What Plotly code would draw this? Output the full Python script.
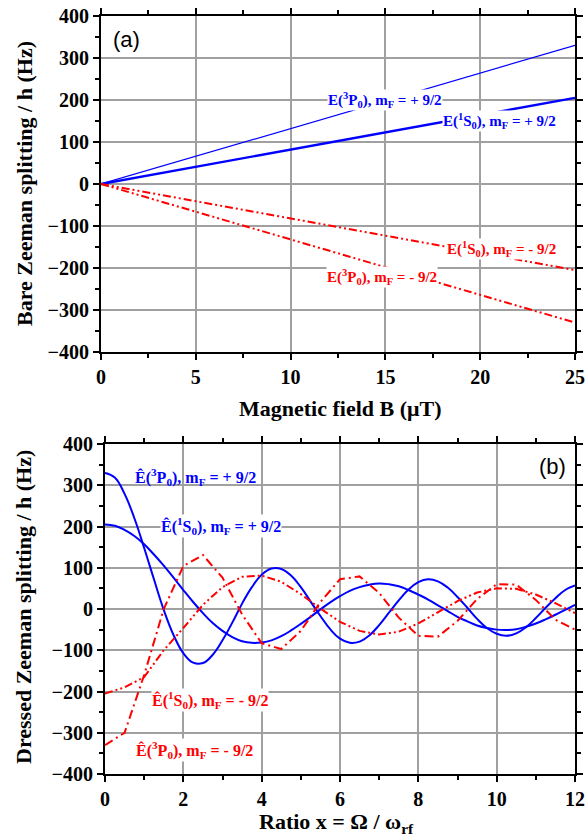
import plotly.graph_objects as go

# ---------------- data ----------------
# (a) bare Zeeman splitting vs magnetic field
B_field = [0, 25]
bare_3P0_plus = [0, 330]
bare_1S0_plus = [0, 205]
bare_1S0_minus = [0, -205]
bare_3P0_minus = [0, -330]

# (b) dressed Zeeman splitting vs ratio x
ratio_x = [0, 0.25, 0.5, 0.75, 1, 1.25, 1.5, 1.75, 2, 2.25, 2.5, 2.75, 3, 3.25, 3.5, 3.75,
           4, 4.25, 4.5, 4.75, 5, 5.25, 5.5, 5.75, 6, 6.25, 6.5, 6.75, 7, 7.25, 7.5, 7.75,
           8, 8.25, 8.5, 8.75, 9, 9.25, 9.5, 9.75, 10, 10.25, 10.5, 10.75, 11, 11.25, 11.5,
           11.75, 12]
dressed_3P0_plus = [330, 319, 279, 220, 148, 72, -2, -63, -107, -130, -131, -111, -76, -33, 13, 53,
                    83, 98, 97, 81, 53, 18, -17, -49, -72, -82, -79, -64, -39, -9, 21, 47,
                    65, 72, 67, 52, 29, 3, -24, -46, -60, -65, -59, -44, -22, 3, 26, 46, 57]
dressed_1S0_plus = [205, 202, 192, 177, 157, 132, 105, 76, 46, 17, -10, -34, -53, -68, -78, -82,
                    -81, -76, -66, -52, -36, -19, -1, 16, 31, 44, 53, 59, 62, 60, 55, 46,
                    35, 23, 9, -5, -19, -30, -40, -46, -50, -51, -49, -43, -35, -25, -14, -2, 10]

ratio_x_red = [0, 0.5, 1, 1.5, 2, 2.5, 3, 3.5, 4, 4.5, 5, 5.5, 6, 6.5, 7, 7.5, 8, 8.5, 9, 9.5,
               10, 10.5, 11, 11.5, 12]
dressed_1S0_minus = [-205, -190, -165, -100, -46, 10, 53, 78, 81, 66, 36, 1, -31, -53, -62, -55,
                     -35, -9, 19, 40, 50, 49, 35, 14, -10]
dressed_3P0_minus = [-330, -300, -160, 0, 104, 131, 76, -13, -83, -97, -53, 17, 72, 79, 39, -21,
                     -65, -67, -29, 24, 60, 59, 22, -26, -50]

y_ticks = [-400, -300, -200, -100, 0, 100, 200, 300, 400]
B_ticks = [0, 5, 10, 15, 20, 25]
x_ticks = [0, 2, 4, 6, 8, 10, 12]

BLUE = "rgb(0,0,255)"
RED = "rgb(255,0,0)"
SERIF = "Liberation Serif"
SANS = "Liberation Sans"
DASH_DOT = "9px,4px,2px,4px"
DASH_DOT_DOT = "8px,3px,2px,3px,2px,3px"

W, H = 587, 840

fig = go.Figure()

# ---- panel (a)
fig.add_trace(go.Scatter(x=B_field, y=bare_3P0_plus, mode="lines",
                         line=dict(color=BLUE, width=1.2), xaxis="x", yaxis="y"))
fig.add_trace(go.Scatter(x=B_field, y=bare_1S0_plus, mode="lines",
                         line=dict(color=BLUE, width=2.4), xaxis="x", yaxis="y"))
fig.add_trace(go.Scatter(x=B_field, y=bare_1S0_minus, mode="lines",
                         line=dict(color=RED, width=2, dash=DASH_DOT_DOT), xaxis="x", yaxis="y"))
fig.add_trace(go.Scatter(x=B_field, y=bare_3P0_minus, mode="lines",
                         line=dict(color=RED, width=2, dash=DASH_DOT_DOT), xaxis="x", yaxis="y"))

# ---- panel (b)
fig.add_trace(go.Scatter(x=ratio_x, y=dressed_3P0_plus, mode="lines",
                         line=dict(color=BLUE, width=2, shape="spline", smoothing=1.2),
                         xaxis="x2", yaxis="y2"))
fig.add_trace(go.Scatter(x=ratio_x, y=dressed_1S0_plus, mode="lines",
                         line=dict(color=BLUE, width=2, shape="spline", smoothing=1.2),
                         xaxis="x2", yaxis="y2"))
fig.add_trace(go.Scatter(x=ratio_x_red, y=dressed_1S0_minus, mode="lines",
                         line=dict(color=RED, width=2, dash=DASH_DOT_DOT), xaxis="x2", yaxis="y2"))
fig.add_trace(go.Scatter(x=ratio_x_red, y=dressed_3P0_minus, mode="lines",
                         line=dict(color=RED, width=2, dash=DASH_DOT), xaxis="x2", yaxis="y2"))


def axis_style(**kw):
    d = dict(showline=True, linecolor="black", linewidth=2, mirror="allticks",
             ticks="outside", ticklen=6, tickwidth=2, tickcolor="black",
             showgrid=True, gridcolor="#a0a0a0", gridwidth=1.5, zeroline=False,
             automargin=False)
    d.update(kw)
    return d


fig.update_layout(
    width=W, height=H, margin=dict(l=0, r=0, t=0, b=0),
    paper_bgcolor="white", plot_bgcolor="white", showlegend=False,
    font=dict(family=SERIF, size=20, color="black", weight="bold"),
    xaxis=axis_style(domain=[101 / W, 575 / W], range=[0, 25], tickvals=B_ticks,
                     minor=dict(ticks="outside", ticklen=4, tickwidth=1.5, tickcolor="black",
                                dtick=2.5, showgrid=False),
                     anchor="y"),
    yaxis=axis_style(domain=[1 - 352 / H, 1 - 16 / H], range=[-400, 400], tickvals=y_ticks,
                     minor=dict(ticks="outside", ticklen=4, tickwidth=1.5, tickcolor="black",
                                dtick=50, showgrid=False),
                     anchor="x"),
    xaxis2=axis_style(domain=[105 / W, 575 / W], range=[0, 12], tickvals=x_ticks,
                      minor=dict(ticks="outside", ticklen=4, tickwidth=1.5, tickcolor="black",
                                 dtick=1, showgrid=False),
                      anchor="y2"),
    yaxis2=axis_style(domain=[1 - 774 / H, 1 - 444 / H], range=[-400, 400], tickvals=y_ticks,
                      minor=dict(ticks="outside", ticklen=4, tickwidth=1.5, tickcolor="black",
                                 dtick=50, showgrid=False),
                      anchor="x2"),
)
fig.update_xaxes(tickfont=dict(family=SERIF, size=20, color="black", weight="bold"))
fig.update_yaxes(tickfont=dict(family=SERIF, size=20, color="black", weight="bold"))

ann = []
# panel (a) labels
for txt, x, y, c in [
    ("E(<sup>3</sup>P<sub>0</sub>), m<sub>F</sub> = + 9/2", 15.0, 200, BLUE),
    ("E(<sup>1</sup>S<sub>0</sub>), m<sub>F</sub> = + 9/2", 21.0, 150, BLUE),
    ("E(<sup>1</sup>S<sub>0</sub>), m<sub>F</sub> = - 9/2", 21.1, -155, RED),
    ("E(<sup>3</sup>P<sub>0</sub>), m<sub>F</sub> = - 9/2", 14.8, -221, RED),
]:
    ann.append(dict(text=txt, x=x, y=y, xref="x", yref="y", showarrow=False,
                    xanchor="center", yanchor="middle",
                    font=dict(family=SERIF, size=15, color=c, weight="bold"),
                    bgcolor="white", borderpad=0))
# panel (b) labels
for txt, x, y, c, bg in [
    ("Ê(<sup>3</sup>P<sub>0</sub>), m<sub>F</sub> = + 9/2", 2.31, 320, BLUE, "rgba(0,0,0,0)"),
    ("Ê(<sup>1</sup>S<sub>0</sub>), m<sub>F</sub> = + 9/2", 2.95, 201, BLUE, "white"),
    ("Ê(<sup>1</sup>S<sub>0</sub>), m<sub>F</sub> = - 9/2", 2.69, -221, RED, "white"),
    ("Ê(<sup>3</sup>P<sub>0</sub>), m<sub>F</sub> = - 9/2", 2.29, -342, RED, "white"),
]:
    ann.append(dict(text=txt, x=x, y=y, xref="x2", yref="y2", showarrow=False,
                    xanchor="center", yanchor="middle",
                    font=dict(family=SERIF, size=16, color=c, weight="bold"),
                    bgcolor=bg, borderpad=0))

# panel tags
for txt, px, py in [("(a)", 126, 39), ("(b)", 552, 466)]:
    ann.append(dict(text=txt, x=px / W, y=1 - py / H, xref="paper", yref="paper",
                    showarrow=False, xanchor="center", yanchor="middle",
                    font=dict(family=SANS, size=22, color="black", weight="normal")))

# axis titles
title_font = dict(family=SERIF, size=22, color="black", weight="bold")
for txt, px, py, ang in [
    ("Bare Zeeman splitting / h (Hz)", 24, 184, -90),
    ("Dressed Zeeman splitting / h (Hz)", 23, 607, -90),
    ("Magnetic field B (\u03bcT)", 340, 408, 0),
    ("Ratio x = \u03a9 / \u03c9<sub>rf</sub>", 336, 823, 0),
]:
    ann.append(dict(text=txt, x=px / W, y=1 - py / H, xref="paper", yref="paper",
                    showarrow=False, textangle=ang, xanchor="center", yanchor="middle",
                    font=title_font))

fig.update_layout(annotations=ann)

fig.write_html("out.html", config={"displayModeBar": False},
               post_script="document.body.style.margin='0';")
